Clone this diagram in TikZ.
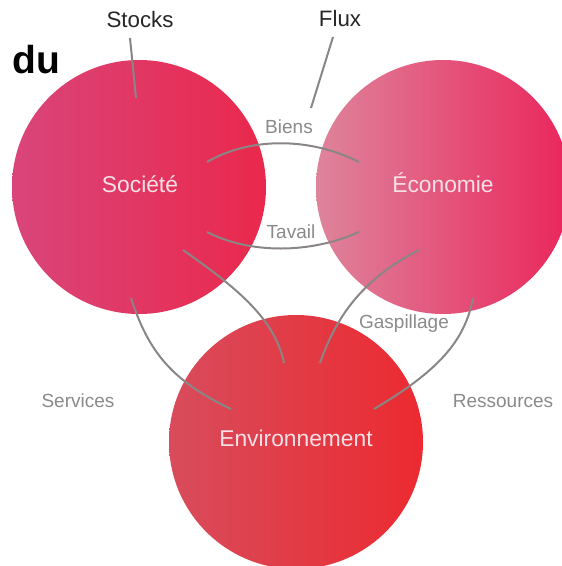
\documentclass[tikz,border=0pt]{standalone}
\usepackage{fontspec}
\setmainfont{Liberation Sans}
\definecolor{socL}{HTML}{D9457A}
\definecolor{socR}{HTML}{EA284C}
\definecolor{ecoL}{HTML}{DE849B}
\definecolor{ecoR}{HTML}{EA265C}
\definecolor{envL}{HTML}{D84C5C}
\definecolor{envR}{HTML}{EC2A30}
\definecolor{linegray}{HTML}{8A8686}
\definecolor{labgray}{HTML}{8A8A8A}
\definecolor{intext}{HTML}{F7E1E6}
\tikzset{
  bubble/.style={circle, draw=none, minimum size=254pt, inner sep=0pt},
  inlabel/.style={text=intext, font=\fontsize{22.8}{26}\selectfont},
  toplabel/.style={text=black!85, font=\fontsize{22.3}{26}\selectfont},
  flowlabel/.style={text=labgray, font=\fontsize{19}{22}\selectfont},
  flow/.style={draw=linegray, line width=2pt}
}
\begin{document}
\begin{tikzpicture}[x=1pt,y=-1pt]
\useasboundingbox (0,0) rectangle (562,566);
\clip (0,0) rectangle (562,566);
\node[bubble, left color=socL, right color=socR] (soc) at (139,187) {};
\node[bubble, left color=ecoL, right color=ecoR] (eco) at (443,187) {};
\node[bubble, left color=envL, right color=envR] (env) at (296,442) {};
\node[inlabel] (socl) at (140,184) {Société};
\node[inlabel] (ecol) at (443,183) {Économie};
\node[inlabel] (envl) at (296,438) {Environnement};
\node[toplabel] (stocks) at (140,20) {Stocks};
\node[toplabel] (flux) at (340,19) {Flux};
\node[text=black, font=\bfseries\fontsize{39}{42}\selectfont] (du) at (36,60) {du};
\node[flowlabel] (biens) at (289,127) {Biens};
\node[flowlabel] (tavail) at (291,232) {Tavail};
\node[flowlabel] (gasp) at (404,324) {Gaspillage};
\node[flowlabel] (serv) at (78,401) {Services};
\node[flowlabel] (ress) at (503,401) {Ressources};
% endpoints
\coordinate (st1) at (130,38);
\coordinate (st2) at (136,98);
\coordinate (fx1) at (333,37);
\coordinate (fx2) at (311,108);
\coordinate (b1) at (207,162);
\coordinate (b2) at (359,162);
\coordinate (t1) at (207,232);
\coordinate (t2) at (359,232);
\coordinate (se1) at (183,250);
\coordinate (se2) at (284,363);
\coordinate (ee1) at (419,250);
\coordinate (ee2) at (320,363);
\coordinate (sv1) at (131,298);
\coordinate (sv2) at (231,409);
\coordinate (rs1) at (473,298);
\coordinate (rs2) at (374,409);
\draw[flow] (st1) -- (st2);
\draw[flow] (fx1) -- (fx2);
\draw[flow] (b1) .. controls (250,137) and (310,137) .. (b2);
\draw[flow] (t1) .. controls (250,254) and (310,254) .. (t2);
\draw[flow] (se1) .. controls (240,290) and (275,320) .. (se2);
\draw[flow] (ee1) .. controls (360,280) and (335,320) .. (ee2);
\draw[flow] (sv1) .. controls (148,350) and (170,380) .. (sv2);
\draw[flow] (rs1) .. controls (465,340) and (440,370) .. (rs2);
\end{tikzpicture}
\end{document}
